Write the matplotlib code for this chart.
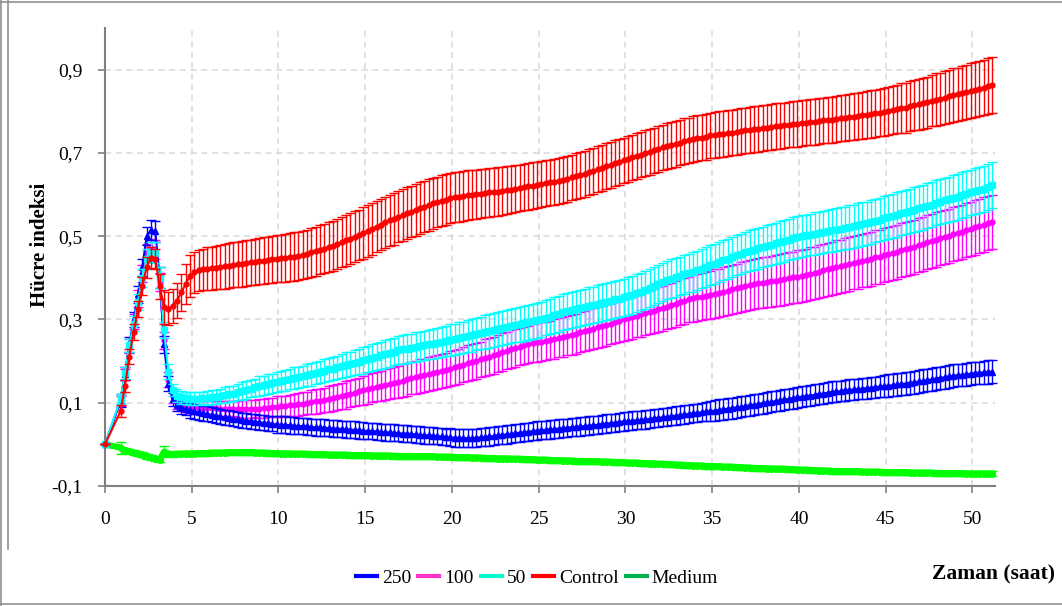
import numpy as np
import matplotlib
matplotlib.use("Agg")
import matplotlib.pyplot as plt
from matplotlib.lines import Line2D

plt.rcParams['font.family'] = ['Liberation Serif', 'DejaVu Serif']

# time axis (h): baseline at 0, then 15-min readings
t = np.concatenate([[0.0], np.arange(0.9, 51.16, 0.25)])

# cell index values (x 0.001)
s250 = [0,105,170,240,300,360,425,500,515,512,400,240,145,108,95,89,85,
82,79,77,75, 73,71,69,67, 65,64,62,60, 58,57,56,54, 53,52,51,49, 48,47,47,46,
45,44,44,43, 42,41,41,40, 39,38,38,37, 36,35,35,34, 33,32,32,31, 30,29,29,28,
27,26,26,25, 24,23,22,22, 21,20,19,18, 17,16,16,15, 15,15,16,17, 18,19,20,22,
23,24,25,27, 28,29,30,32, 33,34,35,36, 37,38,39,40, 41,42,43,44, 45,46,47,49,
50,51,52,54, 55,56,57,58, 59,60,61,63, 64,65,66,68, 69,70,72,73, 75,76,77,79,
80,81,83,84, 86,87,89,90, 92,94,95,97, 99,101,102,104, 106,108,109,111,
113,114,116,117, 119,121,122,124, 126,127,128,130, 131,132,133,134, 135,136,137,139,
140,141,142,144, 145,146,148,149, 151,153,154,156, 158,160,161,163, 165,166,167,168,
170,171,172,173, 174,175]

s100 = [0,105,168,236,295,350,410,460,472,468,390,250,155,115,100,95,92,
90,89,88,88, 87,87,87,86, 86,86,86,85, 85,85,85,86, 86,87,88,89, 90,91,92,94,
95,96,98,99, 101,103,104,106, 109,111,114,116, 119,122,124,127, 130,133,136,138,
140,143,146,148, 150,153,156,159, 161,164,166,169, 171,174,177,179, 182,185,188,191,
195,198,201,204, 208,211,214,218, 222,225,229,232, 235,238,240,243, 245,247,249,251,
253,256,258,261, 263,266,269,272, 275,278,281,284, 287,290,293,297, 300,303,306,309,
312,315,318,321, 324,327,330,334, 337,341,344,348, 351,353,355,357, 359,362,364,367,
369,372,375,378, 381,383,385,387, 388,390,392,393, 395,397,399,401, 403,405,407,410,
412,415,418,420, 423,426,428,431, 433,436,438,441, 443,446,449,451, 454,457,460,463,
466,469,472,475, 479,482,485,488, 492,495,498,501, 505,508,511,514, 518,521,525,528,
531,535]

s50 = [0,110,172,238,290,342,400,445,462,460,400,275,175,130,117,113,111,
110,110,110,111, 112,113,114,116, 118,120,122,125, 128,131,134,137, 140,142,145,147,
150,152,154,157, 159,161,163,166, 168,171,174,177, 180,182,185,188, 191,193,196,199,
202,205,208,211, 214,217,220,223, 226,228,230,232, 234,236,238,240, 242,244,246,248,
250,252,255,257, 260,262,265,267, 270,272,275,277, 280,282,284,286, 289,291,293,296,
298,301,304,307, 310,314,317,320, 323,325,328,330, 333,335,338,340, 343,345,348,350,
353,356,359,363, 367,371,376,380, 385,390,395,398, 401,404,408,411, 414,418,422,426,
430,434,438,442, 446,450,454,458, 462,465,468,471, 474,477,480,483, 486,489,492,495,
498,500,502,504, 506,508,510,512, 514,516,518,520, 522,524,527,529, 531,534,537,540,
543,546,549,552, 555,558,561,564, 567,570,573,576, 580,583,586,589, 592,595,598,601,
605,608,611,614, 618,623]

s_control = [0,80,140,210,270,325,380,425,448,445,380,330,326,332,345,365,385,
405,413,418,420, 422,423,424,426, 428,429,431,432, 434,435,437,438, 440,441,443,444,
446,447,448,450, 451,453,455,458, 461,464,467,470, 474,477,481,485, 490,494,499,503,
508,513,518,523, 528,533,538,542, 547,551,555,559, 563,567,571,575, 579,582,585,588,
591,593,595,597, 599,600,601,602, 604,605,606,607, 609,611,612,614, 616,618,620,621,
623,625,627,629, 631,633,635,638, 641,644,647,650, 654,657,661,664, 668,671,675,678,
682,685,689,692, 696,699,703,706, 710,713,716,719, 722,725,728,730, 733,735,737,739,
742,743,745,746, 748,749,751,752, 754,755,757,758, 760,761,763,764, 765,766,768,769,
770,771,773,774, 775,776,778,779, 780,781,783,784, 786,787,789,790, 792,793,795,797,
799,801,803,805, 807,809,812,814, 817,819,822,825, 828,830,833,836, 839,841,844,846,
849,852,854,857, 860,863]

s_medium = [0,-8,-14,-17,-20,-22,-25,-28,-31,-34,-37,-18,-22,-24,-23,-23,-22,
-22,-22,-21,-21, -21,-20,-20,-20, -20,-19,-19,-19, -19,-19,-19,-20, -20,-20,-21,-21,
-21,-22,-22,-22, -23,-23,-23,-23, -24,-24,-24,-24, -25,-25,-25,-25, -25,-26,-26,-26,
-26,-26,-27,-27, -27,-27,-27,-28, -28,-28,-28,-28, -29,-29,-29,-29, -29,-30,-30,-30,
-30,-31,-31,-31, -31,-32,-32,-32, -33,-33,-33,-34, -34,-34,-35,-35, -35,-36,-36,-36,
-37,-37,-37,-38, -38,-38,-39,-39, -39,-40,-40,-40, -41,-41,-41,-42, -42,-42,-43,-43,
-43,-44,-44,-44, -45,-45,-46,-46, -47,-47,-48,-48, -49,-49,-50,-50, -51,-51,-51,-52,
-52,-53,-53,-54, -54,-54,-55,-55, -56,-56,-57,-57, -57,-58,-58,-59, -59,-59,-60,-60,
-61,-61,-61,-62, -62,-63,-63,-63, -64,-64,-64,-65, -65,-65,-65,-66, -66,-66,-66,-66,
-67,-67,-67,-67, -67,-67,-68,-68, -68,-68,-68,-68, -69,-69,-69,-69, -69,-69,-69,-70,
-70,-70,-70,-70, -70,-70]

# standard deviations (x 0.001)
e250 = [0,15,15,18,18,20,20,22,25,25,25,20,18,15,15,15,15,
18,18,18,18, 18,18,18,18, 18,18,18,18, 18,18,18,18, 18,18,18,18,
20,20,20,20, 20,20,20,20, 20,20,20,20, 20,20,20,20, 20,20,20,20,
20,20,20,20, 20,20,20,20, 20,20,20,20, 20,20,20,20, 20,20,20,20,
22,22,22,22, 22,22,22,22, 22,22,22,22, 22,22,22,22, 22,22,22,22,
22,22,22,22, 22,22,22,22, 22,22,22,22, 22,22,22,22, 22,22,22,22,
22,22,22,22, 22,22,22,22, 22,22,22,22, 22,22,22,22, 22,22,22,22,
25,25,25,25, 25,25,25,25, 25,25,25,25, 25,25,25,25, 25,25,25,25,
25,25,25,25, 25,25,25,25, 25,25,25,25, 25,25,25,25, 25,25,25,25,
27,27,27,27, 27,27,27,27, 27,27,27,27, 27,27,27,27, 27,27,27,27,
27,27,27,27, 28,28]

e100 = [0,12,14,16,18,20,20,22,22,22,22,20,18,15,15,15,15,
15,15,15,15, 17,17,17,17, 19,19,19,19, 21,21,21,21, 23,23,23,23,
25,25,25,25, 27,27,27,27, 29,29,29,29, 31,31,31,31, 33,33,33,33,
35,35,35,35, 37,37,37,37, 39,39,39,39, 40,40,40,40, 41,41,41,41,
42,42,42,42, 43,43,43,43, 44,44,44,44, 45,45,45,45, 45,45,45,45,
46,46,46,46, 47,47,47,47, 48,48,48,48, 49,49,49,49, 50,50,50,50,
52,52,52,52, 53,53,53,53, 54,54,54,54, 55,55,55,55, 56,56,56,56,
58,58,58,58, 59,59,59,59, 60,60,60,60, 61,61,61,61, 62,62,62,62,
63,63,63,63, 63,63,63,63, 64,64,64,64, 64,64,64,64, 65,65,65,65,
65,65,65,65, 65,65,65,65, 65,65,65,65, 65,65,65,65, 65,65,65,65,
65,65,65,65, 65,65]

e50 = [0,12,14,16,18,20,22,25,25,25,25,20,18,15,15,15,15,
15,15,15,15, 17,17,17,17, 19,19,19,19, 21,21,21,21, 23,23,23,23,
25,25,25,25, 26,26,26,26, 27,27,27,27, 28,28,28,28, 30,30,30,30,
32,32,32,32, 33,33,33,33, 34,34,34,34, 35,35,35,35, 36,36,36,36,
38,38,38,38, 39,39,39,39, 40,40,40,40, 41,41,41,41, 42,42,42,42,
42,42,42,42, 43,43,43,43, 43,43,43,43, 44,44,44,44, 44,44,44,44,
45,45,45,45, 45,45,45,45, 46,46,46,46, 46,46,46,46, 47,47,47,47,
48,48,48,48, 48,48,48,48, 49,49,49,49, 49,49,49,49, 50,50,50,50,
50,50,50,50, 51,51,51,51, 51,51,51,51, 52,52,52,52, 52,52,52,52,
53,53,53,53, 53,53,53,53, 54,54,54,54, 54,54,54,54, 55,55,55,55,
55,55,55,55, 56,56]

e_control = [0,15,15,18,20,20,22,25,25,25,30,40,40,40,42,45,48,
50,50,50,50, 52,52,52,52, 54,54,54,54, 55,55,55,55, 56,56,56,56,
57,57,57,57, 58,58,58,58, 59,59,59,59, 60,60,60,60, 61,61,61,61,
62,62,62,62, 62,62,62,62, 62,62,62,62, 62,62,62,62, 61,61,61,61,
60,60,60,60, 59,59,59,59, 58,58,58,58, 57,57,57,57, 56,56,56,56,
55,55,55,55, 55,55,55,55, 55,55,55,55, 55,55,55,55, 55,55,55,55,
55,55,55,55, 55,55,55,55, 55,55,55,55, 55,55,55,55, 55,55,55,55,
55,55,55,55, 55,55,55,55, 55,55,55,55, 55,55,55,55, 55,55,55,55,
55,55,55,55, 55,55,55,55, 55,55,55,55, 56,56,56,56, 57,57,57,57,
58,58,58,58, 60,60,60,60, 61,61,61,61, 63,63,63,63, 64,64,64,64,
66,66,66,66, 67,67]

e_medium = [0,14,6,6,6,6,6,6,6,6,6,13,6,6,6,6,6] + [6] * 186

labels = ['250', '100', '50', 'Control', 'Medium']
values = [s250, s100, s50, s_control, s_medium]
errors = [e250, e100, e50, e_control, e_medium]
colors = ['#0000FF', '#FF00FF', '#00FFFF', '#FF0000', '#00FF00']
markers = ['^', 'o', 's', 'o', 'o']
msizes = [4.5, 3.5, 4.5, 3.5, 4.0]
zorders = [4, 3, 5, 6, 2]
legend_colors = ['#0000FF', '#FF33CC', '#00FFCC', '#FF0000', '#00B050']

for v, e in zip(values, errors):
    assert len(v) == len(t) and len(e) == len(t), (len(v), len(e), len(t))

fig = plt.figure(figsize=(10.62, 6.06), dpi=100)
ax = fig.add_axes([105 / 1062, 1 - 486 / 606, 890 / 1062, (486 - 28) / 606])

for lab, v, e, c, m, ms, z in zip(labels, values, errors, colors, markers, msizes, zorders):
    y = np.array(v) / 1000.0
    err = np.array(e) / 1000.0
    lw = 4.5 if lab == 'Medium' else 1.5
    ax.errorbar(t, y, yerr=err, color=c, marker=m, markersize=ms, lw=lw,
                elinewidth=1.0, capsize=3.5, capthick=1.0, zorder=z, clip_on=False)

ax.set_xlim(0, 51.3)
ax.set_ylim(-0.1, 1.0)
ax.set_xticks(range(0, 51, 5))
yt = [-0.1, 0.1, 0.3, 0.5, 0.7, 0.9]
ax.set_yticks(yt)
ax.set_yticklabels([f"{v:.1f}".replace('.', ',') for v in yt])
ax.tick_params(axis='both', labelsize=14, length=5, width=1.2, color='#808080',
               direction='out')
ax.tick_params(axis='y', pad=11)
ax.tick_params(axis='x', pad=13)
ax.grid(True, color='#D8D8D8', linestyle=(0, (4, 3)), linewidth=1.1, zorder=0)
ax.set_axisbelow(True)
for side in ['top', 'right']:
    ax.spines[side].set_visible(False)
for side in ['left', 'bottom']:
    ax.spines[side].set_color('#808080')
    ax.spines[side].set_linewidth(1.5)

fig.text(40 / 1062, 1 - 245 / 606, 'Hücre indeksi', rotation=90, fontsize=15,
         fontweight='bold', ha='center', va='center')
fig.text(1055 / 1062, 1 - 574 / 606, 'Zaman (saat)', fontsize=15.5,
         fontweight='bold', ha='right', va='center')

handles = [Line2D([0], [0], color=c, lw=3) for c in legend_colors]
fig.legend(handles, labels, loc='center', bbox_to_anchor=(537 / 1062, 1 - 578 / 606),
           ncol=5, frameon=False, fontsize=14, handlelength=1.1, handletextpad=0.25,
           columnspacing=0.35, borderpad=0.1)

# outer frame lines of the original graphic
fig.add_artist(Line2D([0.5 / 1062, 1061.5 / 1062], [1 - 1.5 / 606, 1 - 1.5 / 606],
                      color='#909090', lw=1.2, transform=fig.transFigure))
fig.add_artist(Line2D([0.8 / 1062, 0.8 / 1062], [0, 1], color='#909090', lw=1.2,
                      transform=fig.transFigure))
fig.add_artist(Line2D([0, 1], [1 - 603.5 / 606, 1 - 603.5 / 606], color='#909090',
                      lw=1.2, transform=fig.transFigure))
fig.add_artist(Line2D([8 / 1062, 8 / 1062], [1 - 549 / 606, 1], color='#909090',
                      lw=1.2, transform=fig.transFigure))

fig.savefig('out.png', dpi=100)
